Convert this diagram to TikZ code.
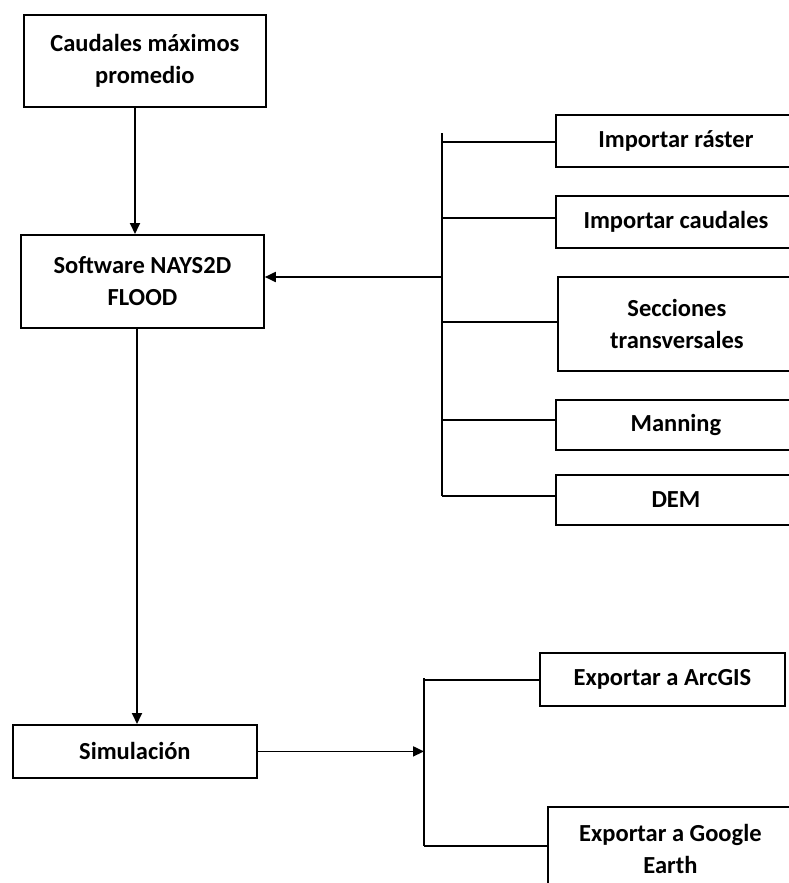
\documentclass[tikz,border=0pt]{standalone}
\usepackage{fontspec}
\setmainfont{Carlito}
\usetikzlibrary{arrows.meta, positioning}

\begin{document}
\begin{tikzpicture}[
        x=1pt, y=-1pt,
        box/.style={draw, line width=1.8pt, rectangle, anchor=north west, inner sep=0pt,
            align=center, font=\fontsize{24.5}{32}\selectfont\bfseries},
        link/.style={line width=1.8pt},
        flecha/.style={line width=1.8pt, -{Triangle[length=11pt, width=10pt]}}
    ]
        \useasboundingbox (0,0) rectangle (789,883);
        \clip (0,0) rectangle (789,883);

        % Columna izquierda
        \node [box, minimum width=242, minimum height=92] (caudales) at (23,14) {Caudales máximos\\promedio};
        \node [box, minimum width=243, minimum height=93] (nays) at (20,234) {Software NAYS2D\\FLOOD};
        \node [box, minimum width=244, minimum height=53] (sim) at (12,724) {Simulación};

        % Datos de entrada
        \node [box, minimum width=240, minimum height=52] (raster) at (555,114) {Importar ráster};
        \node [box, minimum width=240, minimum height=52] (qimp) at (555,195) {Importar caudales};
        \node [box, minimum width=238, minimum height=94] (secc) at (557,276) {Secciones\\transversales};
        \node [box, minimum width=240, minimum height=50] (manning) at (555,399) {Manning};
        \node [box, minimum width=240, minimum height=50] (dem) at (555,474) {DEM};

        % Resultados
        \node [box, minimum width=245, minimum height=53] (arcgis) at (539,652) {Exportar a ArcGIS};
        \node [box, minimum width=245, minimum height=84] (google) at (547,806) {Exportar a Google\\Earth};

        % Barras de union
        \coordinate (bus1a) at (442,133);
        \coordinate (bus1b) at (442,496);
        \coordinate (bus1m) at (442,277);
        \coordinate (bus2a) at (424,678);
        \coordinate (bus2b) at (424,846);

        \draw[link] (bus1a) -- (bus1b);
        \draw[link] (bus1a |- 0,142) -- (raster.west |- 0,142);
        \draw[link] (bus1a |- 0,218) -- (qimp.west |- 0,218);
        \draw[link] (bus1a |- 0,322) -- (secc.west |- 0,322);
        \draw[link] (bus1a |- 0,420) -- (manning.west |- 0,420);
        \draw[link] (bus1b) -- (dem.west |- bus1b);

        \draw[link] (bus2a) -- (bus2b);
        \draw[link] (bus2a |- 0,680) -- (arcgis.west |- 0,680);
        \draw[link] (bus2b) -- (google.west |- bus2b);

        % Flechas
        \draw[flecha] (caudales.south -| 135,0) -- (nays.north -| 135,0);
        \draw[flecha] (nays.south -| 137,0) -- (sim.north -| 137,0);
        \draw[flecha] (bus1m) -- (nays.east |- bus1m);
        \draw[flecha] (sim.east) -- (sim.east -| bus2a);
    \end{tikzpicture}
\end{document}
